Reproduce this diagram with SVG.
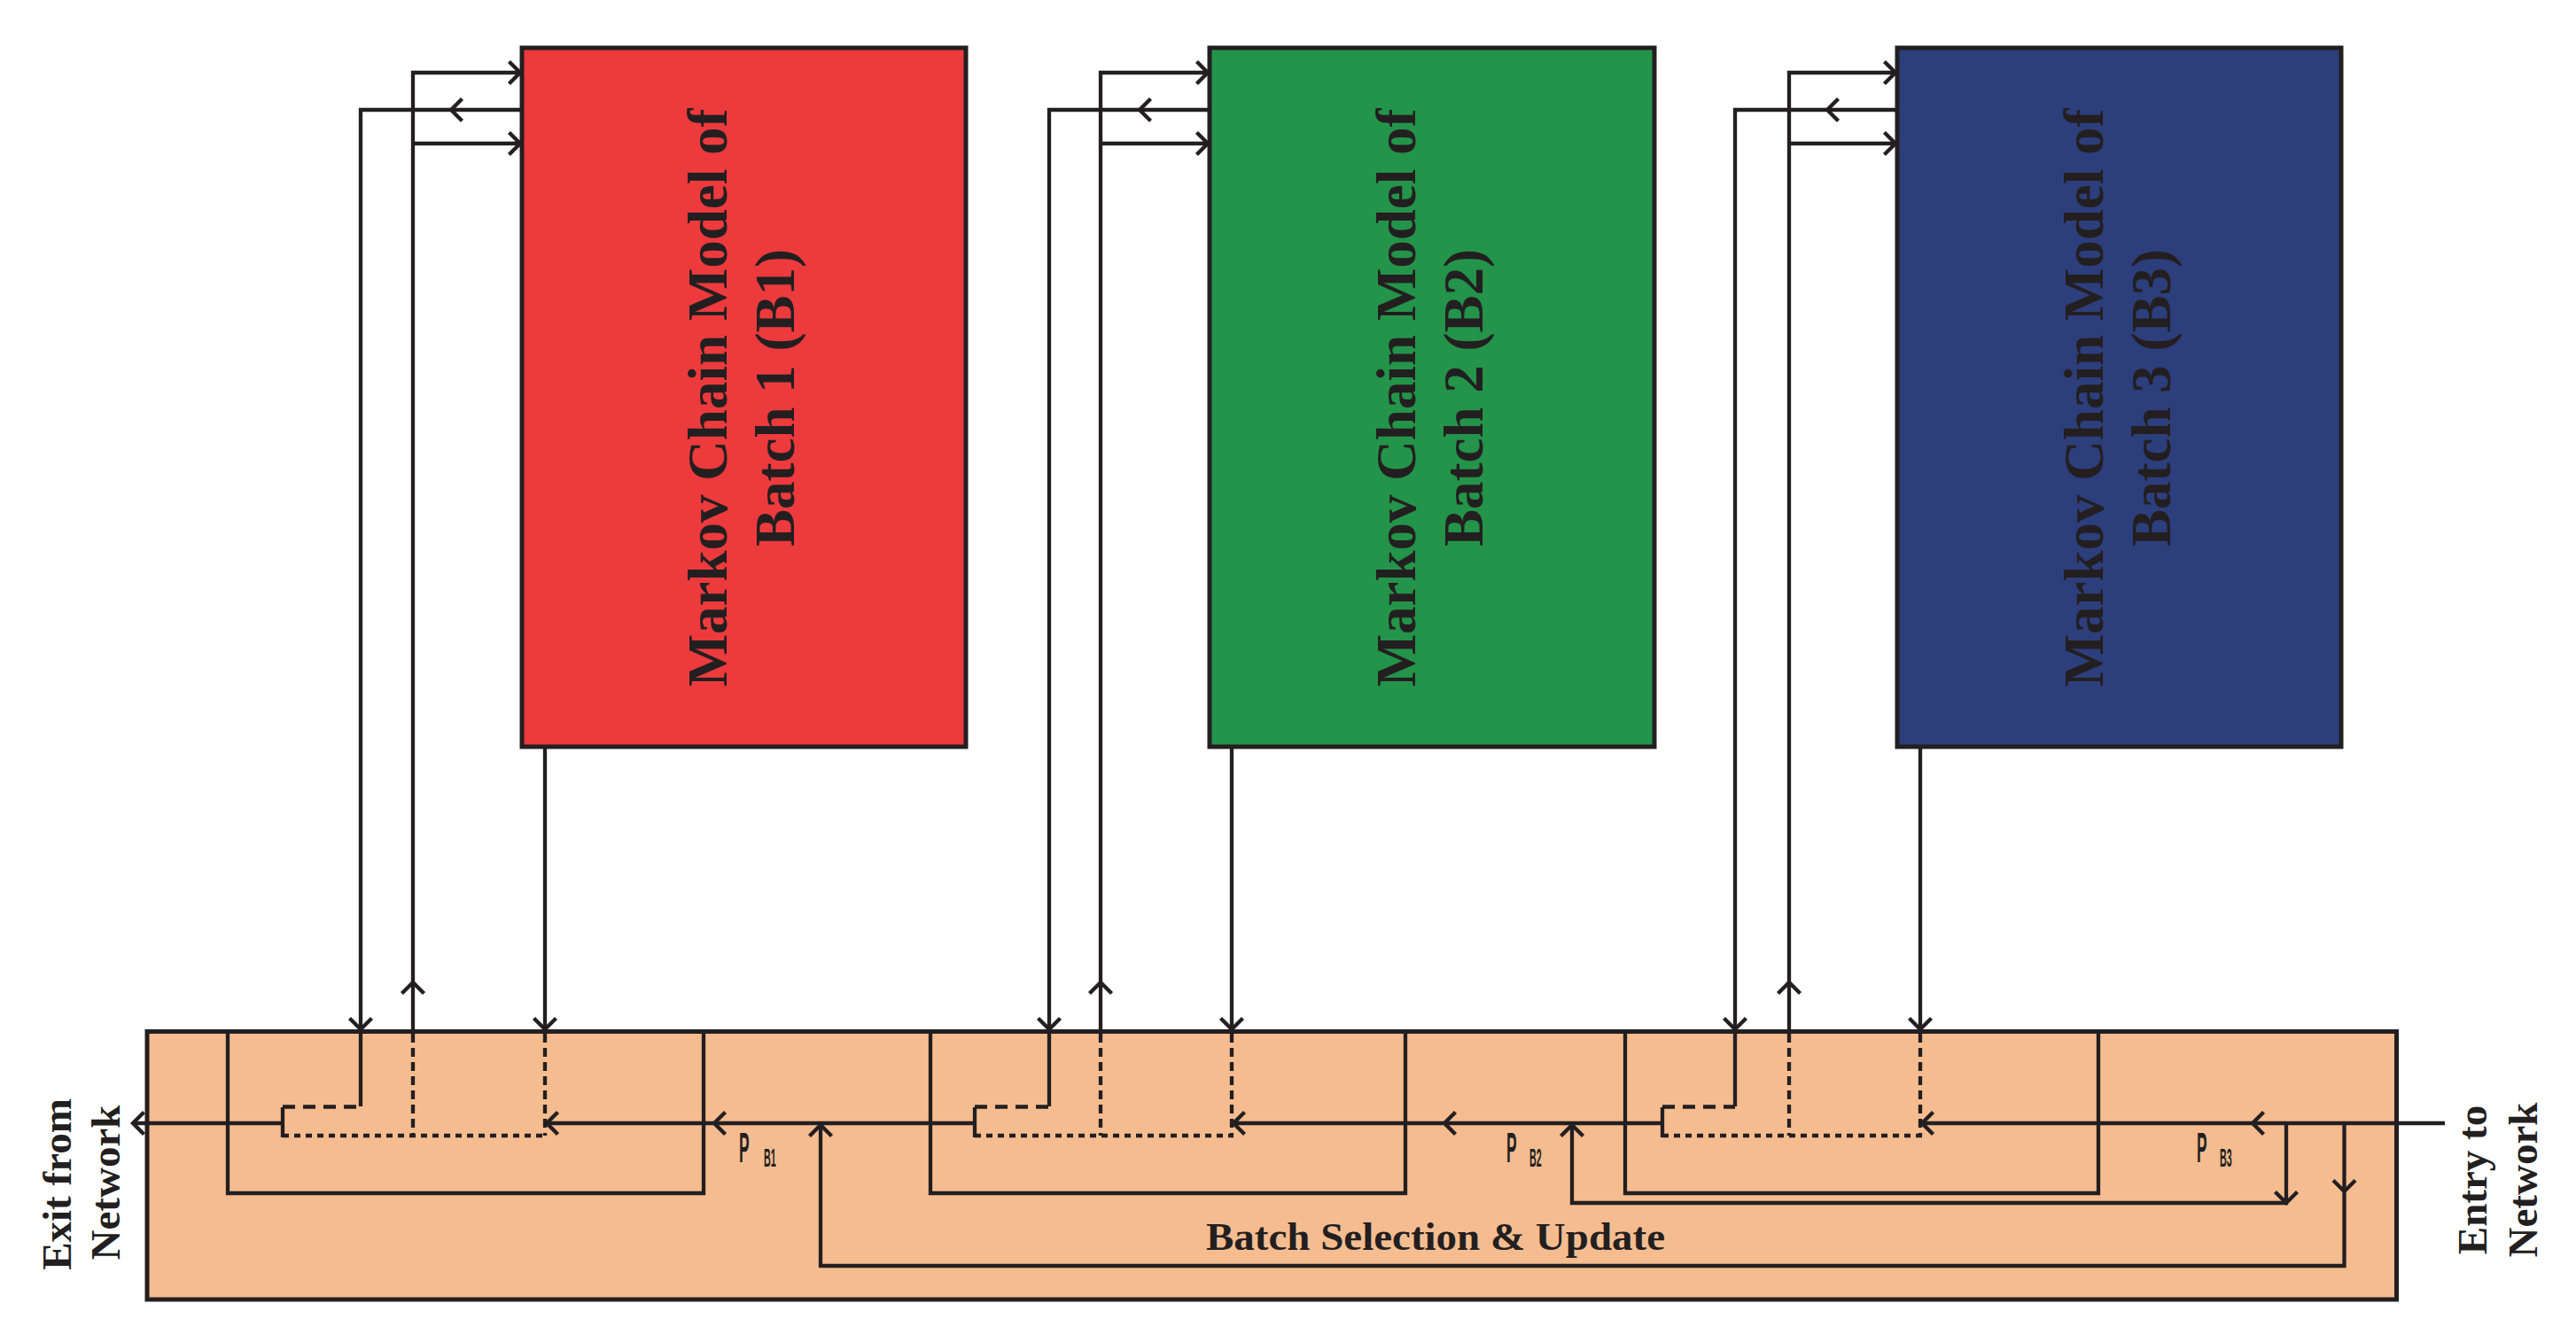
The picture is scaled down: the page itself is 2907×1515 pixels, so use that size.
<svg xmlns="http://www.w3.org/2000/svg" xmlns:xlink="http://www.w3.org/1999/xlink" width="2907" height="1515" viewBox="0 0 2907 1515">
<style>
.bg{fill:#ffffff}
.box{stroke:#231F20;stroke-width:5}
.ln{fill:none;stroke:#231F20;stroke-width:4.3;stroke-linecap:butt;stroke-linejoin:miter}
.dash{fill:none;stroke:#231F20;stroke-width:4.3;stroke-dasharray:10 6}
.dashh{fill:none;stroke:#231F20;stroke-width:4.3;stroke-dasharray:14 9}
.dot{fill:none;stroke:#231F20;stroke-width:4.3;stroke-dasharray:7 6}
.title{font-family:"Liberation Serif","Times New Roman",serif;font-weight:bold;font-size:63px;fill:#231F20;text-anchor:middle}
.side{font-family:"Liberation Serif","Times New Roman",serif;font-weight:bold;font-size:47px;fill:#231F20;text-anchor:middle}
.mid{font-family:"Liberation Serif","Times New Roman",serif;font-weight:bold;font-size:44px;fill:#231F20}
.p{font-family:"Liberation Sans",Arial,sans-serif;font-weight:bold;font-size:48px;fill:#231F20}
.ps{font-family:"Liberation Sans",Arial,sans-serif;font-weight:bold;font-size:29px;fill:#231F20}
</style>
<defs>
<path id="chev" d="M-12.5,-12.5 L0,0 L-12.5,12.5" fill="none" stroke="#231F20" stroke-width="4.3"/>
</defs>
<rect class="bg" x="0" y="0" width="2907" height="1515"/>

<g id="node-selector">
<rect class="box" x="166" y="1164.5" width="2538.5" height="302.5" fill="#F5BC90"/>
<text class="mid" x="1361" y="1411" textLength="518" lengthAdjust="spacingAndGlyphs">Batch Selection &amp; Update</text>
</g>

<g id="node-b1">
<rect class="box" x="589" y="54" width="501" height="789" fill="#ED3A3D"/>
<text class="title" transform="translate(820,449) rotate(-90)">Markov Chain Model of</text>
<text class="title" transform="translate(896,449) rotate(-90)">Batch 1 (B1)</text>
</g>
<g id="node-b2">
<rect class="box" x="1365" y="54" width="502" height="789" fill="#23944A"/>
<text class="title" transform="translate(1597,449) rotate(-90)">Markov Chain Model of</text>
<text class="title" transform="translate(1673,449) rotate(-90)">Batch 2 (B2)</text>
</g>
<g id="node-b3">
<rect class="box" x="2141" y="54" width="501" height="789" fill="#2D3E7C"/>
<text class="title" transform="translate(2373,449) rotate(-90)">Markov Chain Model of</text>
<text class="title" transform="translate(2449,449) rotate(-90)">Batch 3 (B3)</text>
</g>

<g id="connectors">
<!-- module 1 (L=589) -->
<path class="ln" d="M587,124 H407 V1249"/>
<use xlink:href="#chev" transform="translate(509,124) rotate(180)"/>
<use xlink:href="#chev" transform="translate(407,1162) rotate(90)"/>
<path class="ln" d="M466,1162 V82 H587 M466,162 H587"/>
<use xlink:href="#chev" transform="translate(587,82)"/>
<use xlink:href="#chev" transform="translate(587,162)"/>
<use xlink:href="#chev" transform="translate(466,1109) rotate(-90)"/>
<path class="ln" d="M615,845 V1164"/>
<use xlink:href="#chev" transform="translate(615,1162) rotate(90)"/>
<path class="ln" d="M257,1164 V1347 H794 V1164"/>
<path class="ln" d="M319,1250 V1284"/>
<path class="dashh" d="M319,1249.5 H407"/>
<path class="dash" d="M466,1167 V1282"/>
<path class="dash" d="M615,1167 V1282"/>
<path class="dot" d="M319,1282 H617"/>

<!-- module 2 (L=1365) -->
<path class="ln" d="M1363,124 H1184 V1249"/>
<use xlink:href="#chev" transform="translate(1286,124) rotate(180)"/>
<use xlink:href="#chev" transform="translate(1184,1162) rotate(90)"/>
<path class="ln" d="M1242,1162 V82 H1363 M1242,162 H1363"/>
<use xlink:href="#chev" transform="translate(1363,82)"/>
<use xlink:href="#chev" transform="translate(1363,162)"/>
<use xlink:href="#chev" transform="translate(1242,1109) rotate(-90)"/>
<path class="ln" d="M1390,845 V1164"/>
<use xlink:href="#chev" transform="translate(1390,1162) rotate(90)"/>
<path class="ln" d="M1050,1164 V1347 H1586 V1164"/>
<path class="ln" d="M1100,1250 V1284"/>
<path class="dashh" d="M1100,1249.5 H1184"/>
<path class="dash" d="M1242,1167 V1282"/>
<path class="dash" d="M1390,1167 V1282"/>
<path class="dot" d="M1100,1282 H1392"/>

<!-- module 3 (L=2141) -->
<path class="ln" d="M2139,124 H1958 V1249"/>
<use xlink:href="#chev" transform="translate(2062,124) rotate(180)"/>
<use xlink:href="#chev" transform="translate(1958,1162) rotate(90)"/>
<path class="ln" d="M2019,1162 V82 H2139 M2019,162 H2139"/>
<use xlink:href="#chev" transform="translate(2139,82)"/>
<use xlink:href="#chev" transform="translate(2139,162)"/>
<use xlink:href="#chev" transform="translate(2019,1109) rotate(-90)"/>
<path class="ln" d="M2167,845 V1164"/>
<use xlink:href="#chev" transform="translate(2167,1162) rotate(90)"/>
<path class="ln" d="M1834,1164 V1347 H2368 V1164"/>
<path class="ln" d="M1876,1250 V1284"/>
<path class="dashh" d="M1876,1249.5 H1958"/>
<path class="dash" d="M2019,1167 V1282"/>
<path class="dash" d="M2167,1167 V1282"/>
<path class="dot" d="M1876,1282 H2169"/>

<!-- main flow line -->
<path class="ln" d="M2759,1268 H2169"/>
<use xlink:href="#chev" transform="translate(2542,1268) rotate(180)"/>
<use xlink:href="#chev" transform="translate(2169,1268) rotate(180)"/>
<path class="ln" d="M1876,1268 H1392"/>
<use xlink:href="#chev" transform="translate(1630,1268) rotate(180)"/>
<use xlink:href="#chev" transform="translate(1392,1268) rotate(180)"/>
<path class="ln" d="M1100,1268 H617"/>
<use xlink:href="#chev" transform="translate(806,1268) rotate(180)"/>
<use xlink:href="#chev" transform="translate(617,1268) rotate(180)"/>
<path class="ln" d="M319,1268 H150"/>
<use xlink:href="#chev" transform="translate(150,1268) rotate(180)"/>

<!-- feedback loops -->
<path class="ln" d="M2580,1268 V1358 H1774 V1270"/>
<use xlink:href="#chev" transform="translate(2580,1358) rotate(90)"/>
<use xlink:href="#chev" transform="translate(1774,1270) rotate(-90)"/>
<path class="ln" d="M2645.5,1268 V1429 H926 V1270"/>
<use xlink:href="#chev" transform="translate(2645.5,1345) rotate(90)"/>
<use xlink:href="#chev" transform="translate(926,1270) rotate(-90)"/>
</g>

<g id="labels">
<text class="p" transform="translate(834,1312) scale(0.36,1)">P</text>
<text class="ps" transform="translate(862,1317) scale(0.37,1)">B1</text>
<text class="p" transform="translate(1700,1312) scale(0.36,1)">P</text>
<text class="ps" transform="translate(1726,1317) scale(0.37,1)">B2</text>
<text class="p" transform="translate(2479,1312) scale(0.36,1)">P</text>
<text class="ps" transform="translate(2505,1317) scale(0.37,1)">B3</text>
<text class="side" transform="translate(80,1337) rotate(-90)">Exit from</text>
<text class="side" transform="translate(135,1335) rotate(-90)">Network</text>
<text class="side" transform="translate(2806,1332) rotate(-90)">Entry to</text>
<text class="side" transform="translate(2863,1332) rotate(-90)">Network</text>
</g>
</svg>
